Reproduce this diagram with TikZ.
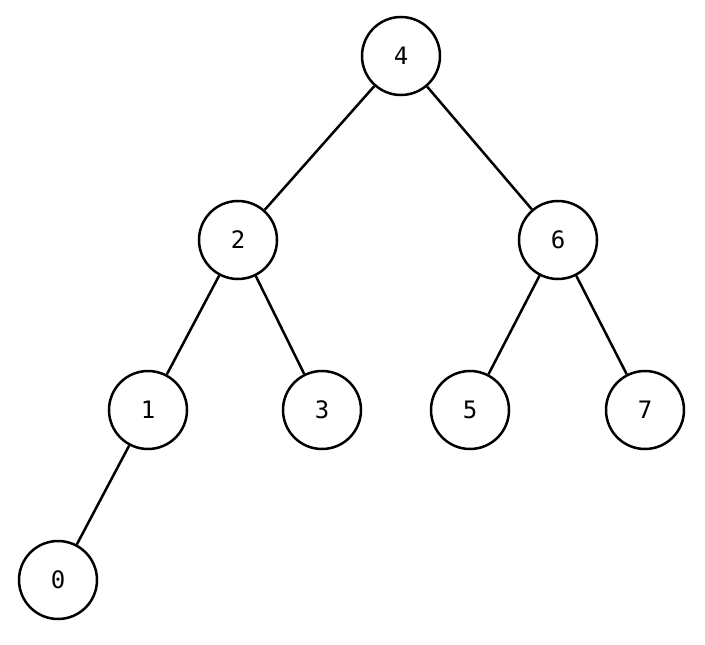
\documentclass[tikz,border=0pt]{standalone}
\usepackage{fontspec}
\setmonofont{DejaVu Sans Mono}
\begin{document}
\begin{tikzpicture}[x=1pt,y=-1pt,
  n/.style={circle,draw,line width=2.5pt,minimum size=78pt,inner sep=0pt,font=\ttfamily\fontsize{24}{24}\selectfont},
  e/.style={line width=2.5pt}]
\useasboundingbox (0,0) rectangle (705,645);
\node[n] (n4) at (401,56) {4};
\node[n] (n2) at (238,240) {2};
\node[n] (n6) at (558,240) {6};
\node[n] (n1) at (148,410) {1};
\node[n] (n3) at (322,410) {3};
\node[n] (n5) at (470,410) {5};
\node[n] (n7) at (645,410) {7};
\node[n] (n0) at (58,580) {0};
\draw[e] (n4)--(n2); \draw[e] (n4)--(n6);
\draw[e] (n2)--(n1); \draw[e] (n2)--(n3);
\draw[e] (n6)--(n5); \draw[e] (n6)--(n7);
\draw[e] (n1)--(n0);
\end{tikzpicture}
\end{document}
